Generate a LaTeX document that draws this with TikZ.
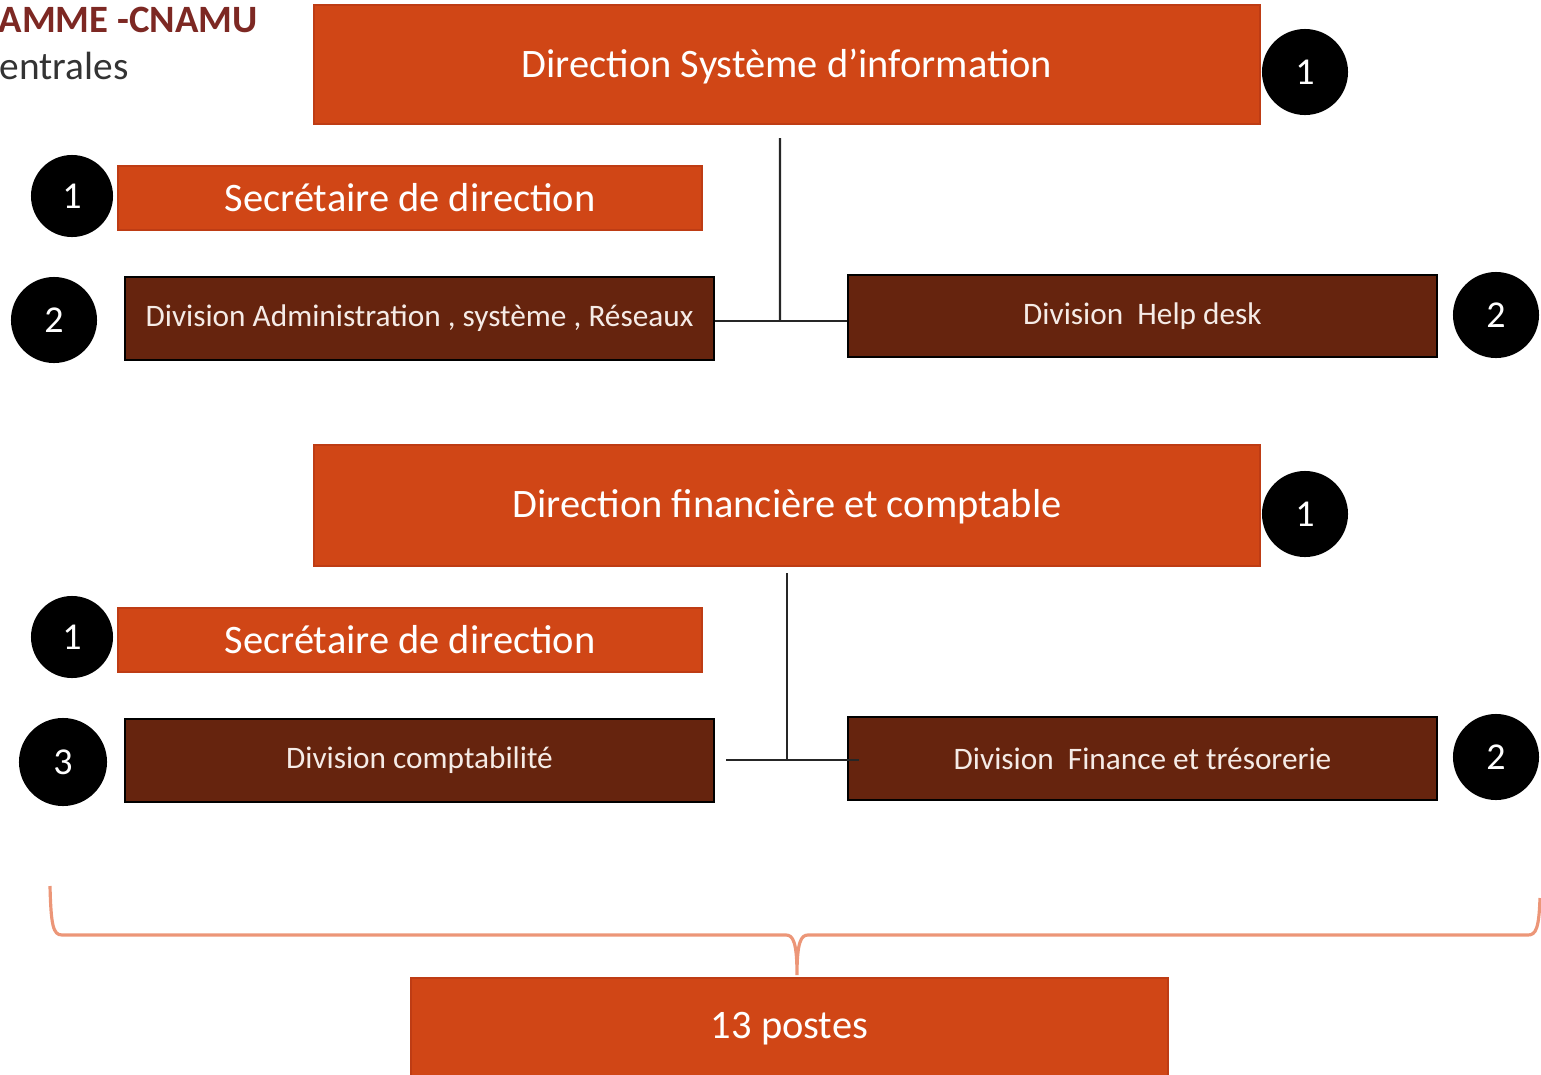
\documentclass[tikz,border=0pt]{standalone}
\usepackage{fontspec}
\setmainfont{Carlito}
\definecolor{orgfill}{RGB}{208,70,22}
\definecolor{orgline}{RGB}{190,60,20}
\definecolor{brnfill}{RGB}{102,36,14}
\definecolor{bracecol}{RGB}{236,150,120}
\definecolor{titlered}{RGB}{125,40,35}
\definecolor{lighttext}{RGB}{245,235,230}
\tikzset{
  orgbox/.style={draw=orgline, line width=0.6pt, fill=orgfill, text=white, inner sep=0pt},
  brnbox/.style={draw=black, line width=0.7pt, fill=brnfill, text=lighttext, inner sep=0pt, font=\fontsize{8.9}{10}\selectfont},
  bigtxt/.style={font=\fontsize{11.5}{13}\selectfont},
  numdot/.style={circle, fill=black, text=white, inner sep=0pt, minimum size=0.86cm, font=\fontsize{10.8}{12}\selectfont},
  conn/.style={draw=black!85, line width=0.6pt},
  bracestyle/.style={draw=bracecol, line width=0.9pt},
  plainlbl/.style={text=white, inner sep=0pt}
}
\begin{document}
\begin{tikzpicture}[x=0.01cm,y=-0.01cm]
\useasboundingbox (0,0) rectangle (1541,1075);
% header fragments
\node[anchor=base west, inner sep=0pt, text=titlered, font=\bfseries\fontsize{11}{12}\selectfont] (hd1) at (-2,32) {AMME -CNAMU};
\node[anchor=base west, inner sep=0pt, text=black!80, font=\fontsize{11.2}{12}\selectfont] (hd2) at (-1,79) {entrales};

\coordinate (j1) at (780,321);
\coordinate (j2) at (787,760);

% first block
\node[orgbox, minimum width=9.46cm, minimum height=1.19cm] (dsi) at (787,64.5) {};
\node[plainlbl, bigtxt] (dsil) at (787,66) {Direction Système d’information};
\node[numdot] (c1) at (1305,72) {1};
\node[orgbox, bigtxt, minimum width=5.84cm, minimum height=0.64cm] (sec1) at (410,198) {Secrétaire de direction};
\node[numdot, minimum size=0.82cm] (c2) at (72,196) {1};
\node[brnbox, minimum width=5.89cm, minimum height=0.83cm] (adm) at (419.5,318.5) {Division Administration , système , Réseaux};
\node[numdot] (c3) at (54,320) {2};
\node[brnbox, minimum width=5.89cm, minimum height=0.82cm] (help) at (1142.5,316) {Division\ \ Help desk};
\node[numdot] (c4) at (1496,315) {2};

\draw[conn] ([xshift=-0.07cm,yshift=-0.13cm]dsi.south) -- (j1);
\draw[conn] (adm.east |- j1) -- (help.west |- j1);

% second block
\node[orgbox, minimum width=9.46cm, minimum height=1.21cm] (dfc) at (787,505.5) {};
\node[plainlbl, bigtxt] (dfcl) at (787,507) {Direction financière et comptable};
\node[numdot] (c5) at (1305,514) {1};
\node[orgbox, bigtxt, minimum width=5.84cm, minimum height=0.64cm] (sec2) at (410,640) {Secrétaire de direction};
\node[numdot, minimum size=0.82cm] (c6) at (72,637) {1};
\node[brnbox, minimum width=5.89cm, minimum height=0.83cm] (cpt) at (419.5,760.5) {Division comptabilité};
\node[numdot, minimum size=0.88cm] (c7) at (63,762) {3};
\node[brnbox, minimum width=5.89cm, minimum height=0.83cm] (fin) at (1142.5,758.5) {Division\ \ Finance et trésorerie};
\node[numdot] (c8) at (1496,757) {2};

\draw[conn] ([yshift=-0.06cm]dfc.south) -- (j2);
\draw[conn] ([xshift=0.11cm]cpt.east |- j2) -- ([xshift=0.12cm]fin.west |- j2);

% total box
\node[orgbox, minimum width=7.57cm, minimum height=1.2cm, anchor=north] (tot) at (789.5,977) {};
\node[plainlbl, bigtxt] (totlbl) at (789.5,1029) {13 postes};

% brace
\coordinate (brL) at (50,886);
\coordinate (brR) at (1540,898);
\draw[bracestyle] (brL) .. controls (51,925) and (53,935) .. (62,935) -- (786,935)
  .. controls (793,935) and (797,942) .. (797,975)
  .. controls (797,942) and (801,935) .. (808,935) -- (1528,935)
  .. controls (1536,935) and (1539,928) .. (brR);
\end{tikzpicture}
\end{document}
